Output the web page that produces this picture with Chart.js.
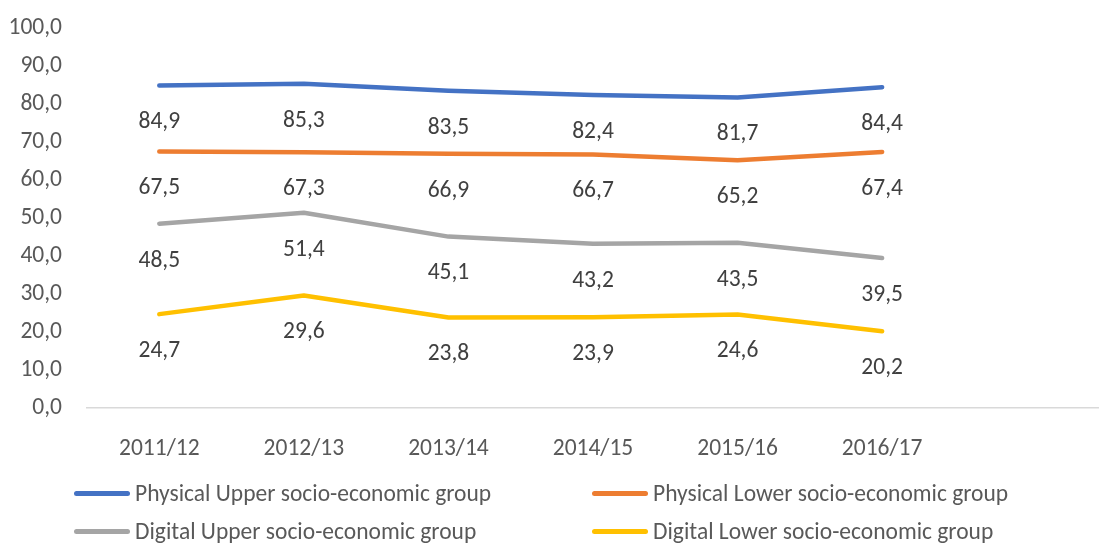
<!DOCTYPE html>
<html>
<head>
<meta charset="utf-8">
<script src="https://cdn.jsdelivr.net/npm/chart.js@4/dist/chart.umd.min.js"></script>
<style>
  html, body { margin: 0; padding: 0; background: #fff; }
  #wrap { position: relative; width: 1099px; height: 544px; overflow: hidden; }
  #legend { position: absolute; left: 0; top: 0; width: 1099px; height: 544px; pointer-events: none; }
  .lg-item { position: absolute; display: flex; align-items: center; font-family: Carlito, Lato, sans-serif; font-size: 23.5px; color: #595959; white-space: nowrap; }
  .lg-line { width: 56px; height: 5px; border-radius: 3px; margin-right: 5px; }
</style>
</head>
<body>
<div id="wrap">
  <canvas id="chart" width="1099" height="544"></canvas>
  <div id="legend"></div>
</div>
<script>
// ── DATA ──────────────────────────────────────────────────────────
// last category is empty: the reference axis runs on past 2016/17
const YEARS = ['2011/12', '2012/13', '2013/14', '2014/15', '2015/16', '2016/17', ''];

const PHYSICAL_UPPER = [84.9, 85.3, 83.5, 82.4, 81.7, 84.4];
const PHYSICAL_LOWER = [67.5, 67.3, 66.9, 66.7, 65.2, 67.4];
const DIGITAL_UPPER  = [48.5, 51.4, 45.1, 43.2, 43.5, 39.5];
const DIGITAL_LOWER  = [24.7, 29.6, 23.8, 23.9, 24.6, 20.2];

const SERIES_NAMES = [
  'Physical Upper socio-economic group',
  'Physical Lower socio-economic group',
  'Digital Upper socio-economic group',
  'Digital Lower socio-economic group',
];

const COLORS = ['#4472C4', '#ED7D31', '#A5A5A5', '#FFC000'];

const FONT = "Carlito, Lato, sans-serif";
const FONT_SIZE = 23.5;
const fmt = (v) => Number(v).toFixed(1).replace('.', ',');

// ── DATA LABELS (below each point) ───────────────────────────────
const belowLabels = {
  id: 'belowLabels',
  afterDatasetsDraw(chart) {
    const ctx = chart.ctx;
    ctx.save();
    ctx.font = `${FONT_SIZE}px ${FONT}`;
    ctx.fillStyle = '#404040';
    ctx.textAlign = 'center';
    ctx.textBaseline = 'middle';
    chart.data.datasets.forEach((ds, i) => {
      chart.getDatasetMeta(i).data.forEach((pt, j) => {
        if (ds.data[j] == null) return;
        ctx.fillText(fmt(ds.data[j]), pt.x, pt.y + 37);
      });
    });
    ctx.restore();
  }
};

const datasets = [PHYSICAL_UPPER, PHYSICAL_LOWER, DIGITAL_UPPER, DIGITAL_LOWER].map((d, i) => ({
  label: SERIES_NAMES[i],
  data: d,
  borderColor: COLORS[i],
  backgroundColor: COLORS[i],
  borderWidth: 4.5,
  borderCapStyle: 'round',
  borderJoinStyle: 'round',
  pointRadius: 0,
  tension: 0,
  fill: false,
}));

new Chart(document.getElementById('chart'), {
  type: 'line',
  data: { labels: YEARS, datasets },
  options: {
    responsive: false,
    animation: false,
    layout: { padding: { top: 28, right: 0, left: 0, bottom: 0 } },
    plugins: { legend: { display: false }, tooltip: { enabled: false } },
    scales: {
      x: {
        offset: true,
        grid: { display: false },
        border: { display: true, color: '#D9D9D9', width: 1.5 },
        ticks: { color: '#595959', font: { family: FONT, size: FONT_SIZE }, padding: 19, maxRotation: 0, autoSkip: false },
        afterFit: (s) => { s.height = 136; s.paddingLeft = 0; s.paddingRight = 0; },
      },
      y: {
        min: 0,
        max: 100,
        grid: { display: false },
        border: { display: false },
        ticks: { stepSize: 10, color: '#595959', font: { family: FONT, size: FONT_SIZE }, padding: 17, callback: (v) => fmt(v) },
        afterFit: (s) => { s.width = 87; s.paddingTop = 0; s.paddingBottom = 0; },
      }
    }
  },
  plugins: [belowLabels]
});

// ── HTML LEGEND (2 columns) ──────────────────────────────────────
const legendEl = document.getElementById('legend');
const LEGEND_POS = [[74, 495], [592, 495], [74, 533], [592, 533]];
SERIES_NAMES.forEach((name, i) => {
  const item = document.createElement('div');
  item.className = 'lg-item';
  item.style.left = LEGEND_POS[i][0] + 'px';
  item.style.top = (LEGEND_POS[i][1] - 16) + 'px';
  item.innerHTML = `<span class="lg-line" style="background:${COLORS[i]}"></span>${name}`;
  legendEl.appendChild(item);
});
</script>
</body>
</html>
